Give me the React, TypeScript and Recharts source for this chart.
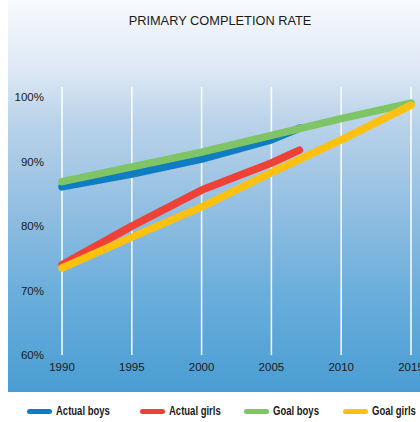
import { LineChart, Line, XAxis, YAxis, CartesianGrid } from 'recharts';

const YEARS = [1990, 1995, 2000, 2005, 2010, 2015];
const Y_TICKS = [60, 70, 80, 90, 100];

const actualBoysYears = [1990, 1995, 2000, 2005, 2007];
const actualBoys = [86.1, 88.1, 90.4, 93.4, 95.2];

const actualGirlsYears = [1990, 1995, 2000, 2005, 2007];
const actualGirls = [74.0, 80.0, 85.6, 89.8, 91.8];

const goalBoysYears = [1990, 1995, 2000, 2005, 2010, 2015];
const goalBoys = [86.9, 89.2, 91.5, 94.1, 96.7, 99.1];

const goalGirlsYears = [1990, 1995, 2000, 2005, 2010, 2015];
const goalGirls = [73.5, 78.3, 83.0, 88.3, 93.4, 98.8];

const SERIES = [
  { name: 'Actual boys', color: '#0f7dc2', years: actualBoysYears, values: actualBoys },
  { name: 'Actual girls', color: '#ef4136', years: actualGirlsYears, values: actualGirls },
  { name: 'Goal boys', color: '#80c565', years: goalBoysYears, values: goalBoys },
  { name: 'Goal girls', color: '#fec10e', years: goalGirlsYears, values: goalGirls },
];

const toRows = (years: number[], values: number[]) =>
  years.map((year, i) => ({ year, value: values[i] }));

const tickStyle = { fontFamily: '"Liberation Sans", Arial, sans-serif', fontSize: 11.5, fill: '#1a1a1a' };

export default function App() {
  return (
    <div style={{ width: 420, fontFamily: '"Liberation Sans", Arial, sans-serif' }}>
      <style>{`body{margin:0}`}</style>
      <div
        style={{
          position: 'relative',
          marginLeft: 8,
          width: 412,
          height: 392,
          overflow: 'visible',
          background:
            'linear-gradient(to bottom, #f8fafd 0%, #dde8f4 18%, #bcd4ea 30%, #8fbde1 55%, #6aaedb 75%, #4a9dd3 100%)',
        }}
      >
        <div
          style={{
            position: 'absolute',
            top: 13,
            left: 0,
            width: 424,
            textAlign: 'center',
            fontSize: 12.8,
            color: '#1a1a1a',
          }}
        >
          PRIMARY COMPLETION RATE
        </div>
        <LineChart
          width={412}
          height={392}
          margin={{ top: 87, right: 9, bottom: 0, left: 0 }}
          style={{ overflow: 'visible' }}
        >
          <CartesianGrid horizontal={false} stroke="#ffffff" strokeWidth={1.5} />
          <XAxis
            type="number"
            dataKey="year"
            domain={[1990, 2015]}
            ticks={YEARS}
            allowDuplicatedCategory={false}
            axisLine={false}
            tickLine={false}
            tickSize={0}
            tickMargin={8}
            height={37}
            tick={tickStyle}
            interval={0}
          />
          <YAxis
            type="number"
            domain={[60, 101.6]}
            ticks={Y_TICKS}
            tickFormatter={(v: number) => `${v}%`}
            axisLine={false}
            tickLine={false}
            tickSize={0}
            tickMargin={18}
            width={54}
            tick={tickStyle}
            interval={0}
          />
          {SERIES.map((s) => (
            <Line
              key={s.name}
              data={toRows(s.years, s.values)}
              dataKey="value"
              name={s.name}
              type="linear"
              stroke={s.color}
              strokeWidth={7.5}
              strokeLinecap="round"
              strokeLinejoin="round"
              dot={false}
              activeDot={false}
              isAnimationActive={false}
            />
          ))}
        </LineChart>
      </div>
      <div style={{ position: 'relative', height: 30 }}>
        {SERIES.map((s, i) => (
          <div
            key={s.name}
            style={{
              position: 'absolute',
              top: 12,
              left: [27, 140, 244, 343][i],
              display: 'flex',
              alignItems: 'center',
              fontWeight: 'bold',
              fontSize: 12.5,
              color: '#1a1a1a',
              whiteSpace: 'nowrap',
            }}
          >
            <span
              style={{
                display: 'inline-block',
                width: 25,
                height: 5,
                borderRadius: 3,
                background: s.color,
                marginRight: 4,
              }}
            />
            <span style={{ display: 'inline-block', transform: 'scaleX(0.76)', transformOrigin: 'left center' }}>
              {s.name}
            </span>
          </div>
        ))}
      </div>
    </div>
  );
}
